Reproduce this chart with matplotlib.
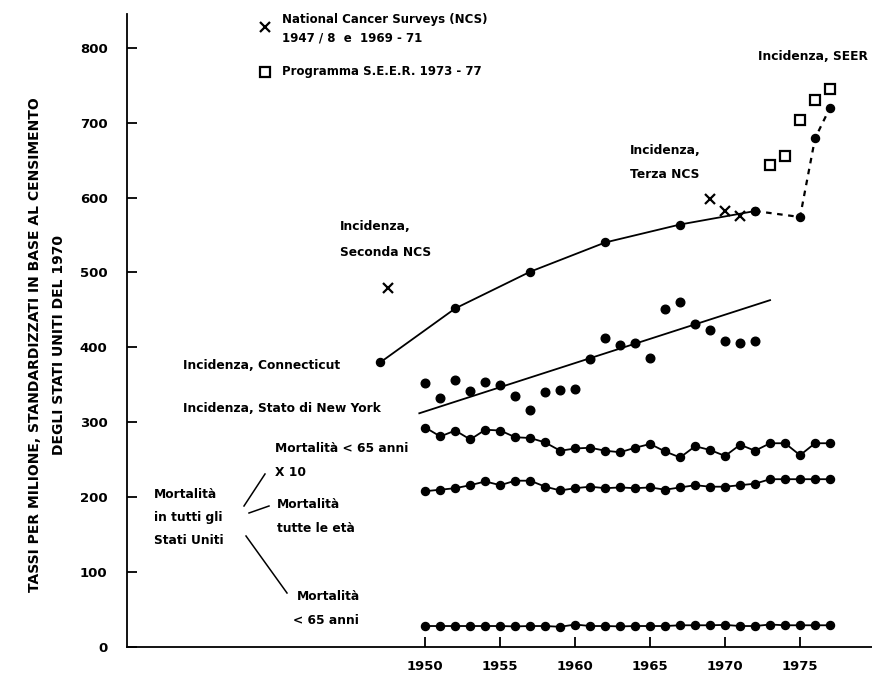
import matplotlib
matplotlib.use("Agg")
import matplotlib.pyplot as plt
from matplotlib.lines import Line2D

# --- data -------------------------------------------------------------
years_mort = list(range(1950, 1978))

# US mortality, under 65, multiplied by 10
mort_u65_x10 = [293, 281, 289, 277, 290, 289, 280, 279, 273, 262,
                265, 266, 262, 260, 266, 271, 261, 253, 268, 263,
                255, 270, 262, 272, 272, 256, 272, 272]

# US mortality, all ages
mort_all = [208, 210, 212, 216, 221, 216, 222, 222, 214, 209,
            212, 214, 212, 213, 212, 213, 210, 213, 216, 214,
            214, 216, 218, 224, 224, 224, 224, 224]

# US mortality, under 65
mort_u65 = [28, 28, 28, 28, 28, 28, 27.5, 28, 28, 27,
            30, 28, 28, 27.5, 28, 28, 28, 29, 29, 29,
            29.5, 28, 28, 30, 29, 29, 29, 29]

# New York State incidence
ny_years = list(range(1950, 1973))
ny_vals = [353, 333, 356, 342, 354, 350, 335, 317, 340, 343,
           344, 384, 412, 403, 406, 386, 451, 461, 431, 423,
           408, 406, 408]

# New York State trend line (end points)
ny_trend_years = [1949.6, 1973.0]
ny_trend_vals = [312, 463]

# Connecticut incidence (solid to 1972, then dashed SEER continuation)
conn_years = [1947, 1952, 1957, 1962, 1967, 1972, 1975, 1976, 1977]
conn_vals = [380, 452, 501, 540, 564, 582, 574, 679, 720]
conn_solid_n = 6

# National Cancer Surveys
ncs_years = [1947.5, 1969, 1970, 1971]
ncs_vals = [479, 598, 582, 576]

# SEER programme
seer_years = [1973, 1974, 1975, 1976, 1977]
seer_vals = [643, 655, 703, 730, 745]

xticks = [1950, 1955, 1960, 1965, 1970, 1975]
yticks = [0, 100, 200, 300, 400, 500, 600, 700, 800]

# --- figure -------------------------------------------------------------
W, H = 872, 677
fig = plt.figure(figsize=(W / 100, H / 100), dpi=100)
ax = fig.add_axes([127 / W, 30 / H, 1 - 127 / W, (647 - 14) / H])
ax.set_xlim(1930.1, 1979.8)
ax.set_ylim(0, 845)

FONT = dict(family="DejaVu Sans", fontweight="bold", color="black")

def fx(px):
    return px / W

def fy(py):
    return 1 - py / H

ms = 5.8
lw = 1.3
k = "black"

ax.plot(years_mort, mort_u65_x10, "-o", color=k, lw=lw, ms=ms)
ax.plot(years_mort, mort_all, "-o", color=k, lw=lw, ms=ms)
ax.plot(years_mort, mort_u65, "-o", color=k, lw=lw, ms=ms)

ax.plot(ny_years, ny_vals, "o", color=k, ms=ms + 0.4)
ax.plot(ny_trend_years, ny_trend_vals, "-", color=k, lw=lw)

ax.plot(conn_years[:conn_solid_n], conn_vals[:conn_solid_n], "-o",
        color=k, lw=lw, ms=ms)
ax.plot(conn_years[conn_solid_n - 1:], conn_vals[conn_solid_n - 1:],
        "o", color=k, ls=(0, (2.5, 2.5)), lw=1.6, ms=ms)

ax.plot(ncs_years, ncs_vals, "x", color=k, ms=7, mew=1.6)
ax.plot(seer_years, seer_vals, "s", mfc="white", mec=k, ms=7, mew=1.6)

# axes styling
for s in ("top", "right"):
    ax.spines[s].set_visible(False)
ax.spines["left"].set_linewidth(1.3)
ax.spines["bottom"].set_linewidth(1.3)
ax.set_xticks(xticks)
ax.set_xticklabels([str(t) for t in xticks])
ax.set_yticks(yticks)
ax.set_yticklabels([str(t) for t in yticks])
ax.tick_params(axis="both", direction="in", length=7, width=1.3,
               labelsize=9.5)
ax.tick_params(axis="y", pad=14)
ax.tick_params(axis="x", pad=9)
for lab in ax.get_xticklabels() + ax.get_yticklabels():
    lab.set_fontweight("bold")
    lab.set_family("DejaVu Sans")

# y-axis title (two lines)
fig.text(fx(35), fy(345), "TASSI PER MILIONE, STANDARDIZZATI IN BASE AL CENSIMENTO",
         rotation=90, ha="center", va="center", fontsize=10, **FONT)
fig.text(fx(59), fy(345), "DEGLI STATI UNITI DEL 1970",
         rotation=90, ha="center", va="center", fontsize=10, **FONT)

# legend
fig.lines.append(Line2D([fx(265)], [fy(27)], marker="x", color=k, ms=7,
                        mew=1.6, transform=fig.transFigure))
fig.lines.append(Line2D([fx(265)], [fy(72)], marker="s", mfc="white",
                        mec=k, ms=7, mew=1.6, transform=fig.transFigure))
fig.text(fx(282), fy(20), "National Cancer Surveys (NCS)", ha="left",
         va="center", fontsize=8.5, **FONT)
fig.text(fx(282), fy(38), "1947 / 8  e  1969 - 71", ha="left",
         va="center", fontsize=8.5, **FONT)
fig.text(fx(282), fy(72), "Programma S.E.E.R. 1973 - 77", ha="left",
         va="center", fontsize=8.5, **FONT)

# labels
def label(px, py, s, ha="left", size=8.8):
    fig.text(fx(px), fy(py), s, ha=ha, va="center", fontsize=size, **FONT)

label(868, 57, "Incidenza, SEER", ha="right")
label(630, 150, "Incidenza,")
label(630, 175, "Terza NCS")
label(340, 226, "Incidenza,")
label(340, 252, "Seconda NCS")
label(183, 366, "Incidenza, Connecticut")
label(183, 409, "Incidenza, Stato di New York")
label(275, 449, "Mortalità < 65 anni")
label(275, 472, "X 10")
label(154, 495, "Mortalità")
label(154, 518, "in tutti gli")
label(154, 541, "Stati Uniti")
label(277, 505, "Mortalità")
label(277, 528, "tutte le età")
label(297, 597, "Mortalità")
label(293, 620, "< 65 anni")

# leader lines
for (x0, y0, x1, y1) in [(244, 506, 265, 474),
                         (249, 513, 269, 506),
                         (246, 536, 287, 593)]:
    fig.lines.append(Line2D([fx(x0), fx(x1)], [fy(y0), fy(y1)], color=k,
                            lw=1.1, transform=fig.transFigure))

fig.savefig("out.png", dpi=100)
